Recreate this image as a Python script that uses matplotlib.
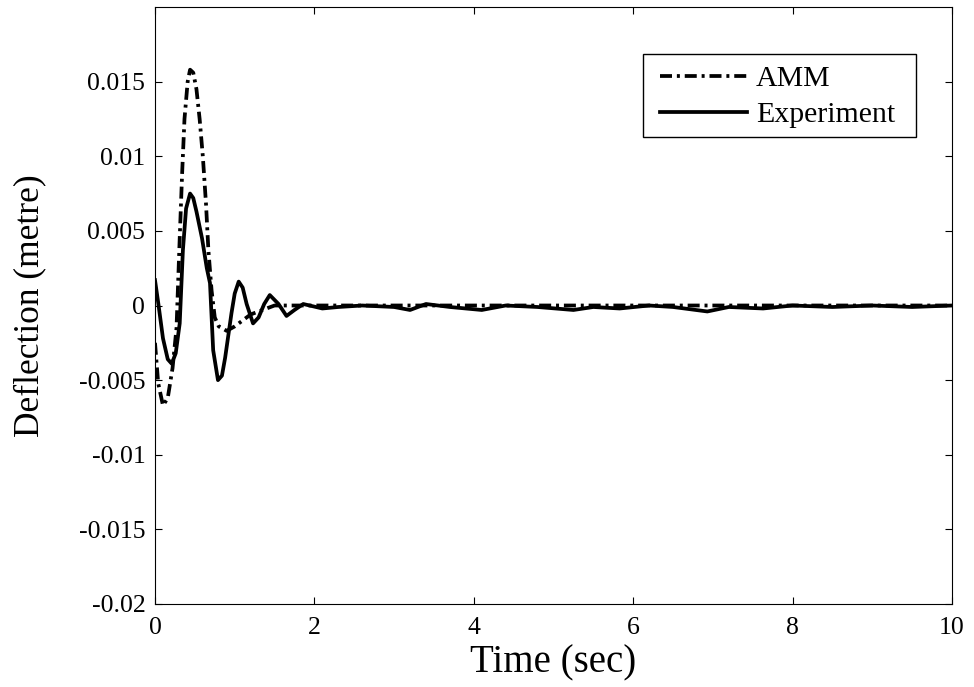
import matplotlib.pyplot as plt
from matplotlib.patches import Rectangle
import numpy as np

plt.rcParams['font.family'] = ['Liberation Serif', 'DejaVu Serif']

# values
amm_t = [0.0, 0.04, 0.1, 0.16, 0.22, 0.27, 0.31, 0.34, 0.37, 0.41, 0.44, 0.48,
         0.52, 0.56, 0.6, 0.64, 0.67, 0.71, 0.75, 0.8, 0.9, 1.0, 1.1, 1.2,
         1.35, 1.5, 1.7, 2.0, 3.0, 4.0, 5.0, 6.0, 7.0, 8.0, 9.0, 10.0]
amm_y = [-0.0025, -0.0052, -0.0067, -0.0062, -0.0042, -0.0015, 0.0045, 0.0088, 0.0125,
         0.0150, 0.0158, 0.0156, 0.0145, 0.0125, 0.0100, 0.0068, 0.0037, 0.0010,
         -0.0008, -0.0014, -0.0017, -0.0014, -0.0010, -0.0006, -0.0003, 0.0,
         0.0, 0.0, 0.0, 0.0, 0.0, 0.0, 0.0, 0.0, 0.0, 0.0]

exp_t = [0.0, 0.04, 0.1, 0.16, 0.21, 0.26, 0.31, 0.35, 0.39, 0.44, 0.48, 0.52,
         0.59, 0.65, 0.69, 0.73, 0.79, 0.84, 0.88, 0.96, 1.0, 1.05, 1.1, 1.15,
         1.23, 1.3, 1.37, 1.44, 1.55, 1.65, 1.75, 1.86, 2.1, 2.3, 2.6, 3.0,
         3.2, 3.4, 3.7, 4.1, 4.4, 4.8, 5.25, 5.5, 5.83, 6.2, 6.5, 6.93, 7.2,
         7.63, 8.0, 8.5, 9.0, 9.5, 10.0]
exp_y = [0.0017, 0.0002, -0.0022, -0.0036, -0.0039, -0.0032, -0.0012, 0.0037, 0.0065,
         0.0075, 0.0072, 0.0063, 0.0045, 0.0025, 0.0015, -0.0030, -0.0050, -0.0047,
         -0.0035, -0.0005, 0.0008, 0.0016, 0.0012, 0.0001, -0.0012, -0.0008, 0.0001,
         0.0007, 0.0001, -0.0007, -0.0003, 0.0001, -0.0002, -0.0001, 0.0, -0.0001,
         -0.0003, 0.0001, -0.0001, -0.0003, 0.0, -0.0001, -0.0003, -0.0001, -0.0002,
         0.0, -0.0001, -0.0004, -0.0001, -0.0002, 0.0, -0.0001, 0.0, -0.0001, 0.0]

fig = plt.figure(figsize=(9.74, 6.87), dpi=100)
ax = fig.add_axes([155 / 974, 1 - 604 / 687, 797 / 974, 597 / 687])

ax.plot(amm_t, amm_y, color='black', linestyle=(0, (3.2, 1.3, 0.8, 1.3)),
        linewidth=2.7, label='AMM')
ax.plot(exp_t, exp_y, color='black', linestyle='-', linewidth=2.7, label='Experiment')

ax.set_xlim(0, 10)
ax.set_ylim(-0.02, 0.02)
ax.set_xticks([0, 2, 4, 6, 8, 10])
ax.set_yticks([-0.02, -0.015, -0.01, -0.005, 0, 0.005, 0.01, 0.015])
ax.set_yticklabels(['-0.02', '-0.015', '-0.01', '-0.005', '0', '0.005', '0.01', '0.015'])
ax.tick_params(direction='in', top=True, right=True, labelsize=18.5, length=5)
ax.tick_params(axis='y', pad=7)
ax.tick_params(axis='x', pad=9)

ax.set_xlabel('Time (sec)', fontsize=28, labelpad=4)
ax.set_ylabel('Deflection (metre)', fontsize=25.5)
ax.yaxis.set_label_coords(-0.136, 0.5)

# legend entries without frame, box drawn separately (wider side margins)
leg = ax.legend(loc='upper left', bbox_to_anchor=(0.634, 0.902), fontsize=21.5,
                frameon=False, handlelength=2.9, handletextpad=0.3,
                borderpad=0, labelspacing=0.3, borderaxespad=0)
ax.add_patch(Rectangle((0.612, 0.782), 0.343, 0.139, transform=ax.transAxes,
                       facecolor='white', edgecolor='black', linewidth=1.0,
                       zorder=4))
leg.set_zorder(5)

fig.savefig('out.png', dpi=100)
